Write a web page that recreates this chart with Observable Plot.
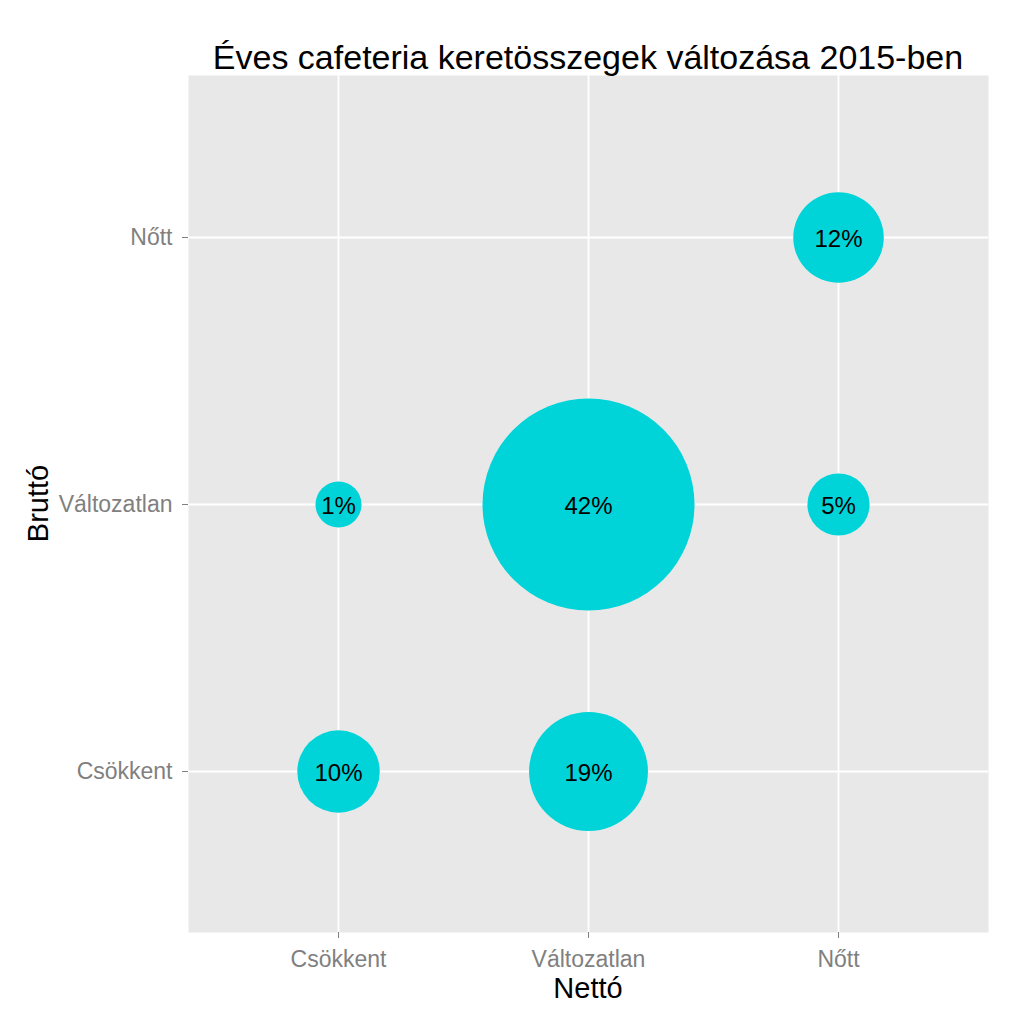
<!DOCTYPE html>
<html>
<head>
<meta charset="utf-8">
<script src="https://cdn.jsdelivr.net/npm/d3@7"></script>
<script src="https://cdn.jsdelivr.net/npm/@observablehq/plot@0.6"></script>
<style>
  html, body { margin: 0; padding: 0; background: #ffffff; }
  #chart svg { display: block; }
</style>
</head>
<body>
<div id="chart"></div>
<script>
const categories = ["Csökkent", "Változatlan", "Nőtt"];
const nettoValues = ["Nőtt", "Csökkent", "Változatlan", "Nőtt", "Csökkent", "Változatlan"];
const bruttoValues = ["Nőtt", "Változatlan", "Változatlan", "Változatlan", "Csökkent", "Csökkent"];
const shares = [12, 1, 42, 5, 10, 19];
const titleText = "Éves cafeteria keretösszegek változása 2015-ben";
const xTitle = "Nettó";
const yTitle = "Bruttó";

const data = shares.map((v, i) => ({ netto: nettoValues[i], brutto: bruttoValues[i], share: v }));

const font = "'Liberation Sans', Arial, sans-serif";
const W = 1024, H = 1024;
const mL = 188, mR = 36, mT = 75, mB = 92;

const chart = Plot.plot({
  width: W,
  height: H,
  marginLeft: mL,
  marginRight: mR,
  marginTop: mT,
  marginBottom: mB,
  style: { fontFamily: font, background: "#ffffff" },
  x: { type: "point", domain: categories, padding: 0.6, label: null },
  y: { type: "point", domain: categories.slice().reverse(), padding: 0.6, label: null },
  r: { type: "linear", domain: [1, 42], range: [23, 106] },
  marks: [
    Plot.frame({ fill: "#E8E8E8", stroke: null }),
    Plot.gridX(categories, { stroke: "#ffffff", strokeOpacity: 1, strokeWidth: 1.8 }),
    Plot.gridY(categories, { stroke: "#ffffff", strokeOpacity: 1, strokeWidth: 1.8 }),
    Plot.axisX({ color: "#808080", tickSize: 6, tickPadding: 12, fontSize: 23, label: null }),
    Plot.axisY({ color: "#808080", tickSize: 6, tickPadding: 10, fontSize: 23, label: null }),
    Plot.dot(data, { x: "netto", y: "brutto", r: "share", fill: "#00D4D9", stroke: null }),
    Plot.text(data, { x: "netto", y: "brutto", text: d => d.share + "%", fontSize: 24, fill: "#000000", dy: 2 })
  ]
});

document.getElementById("chart").appendChild(chart);

const svg = d3.select(chart);
svg.append("text")
  .attr("x", mL + (W - mL - mR) / 2)
  .attr("y", 69)
  .attr("text-anchor", "middle")
  .attr("font-family", font)
  .attr("font-size", 34)
  .attr("fill", "#000")
  .text(titleText);
svg.append("text")
  .attr("x", mL + (W - mL - mR) / 2)
  .attr("y", 998)
  .attr("text-anchor", "middle")
  .attr("font-family", font)
  .attr("font-size", 29)
  .attr("fill", "#000")
  .text(xTitle);
svg.append("text")
  .attr("transform", `translate(48, ${mT + (H - mT - mB) / 2}) rotate(-90)`)
  .attr("text-anchor", "middle")
  .attr("font-family", font)
  .attr("font-size", 29)
  .attr("fill", "#000")
  .text(yTitle);
</script>
</body>
</html>
